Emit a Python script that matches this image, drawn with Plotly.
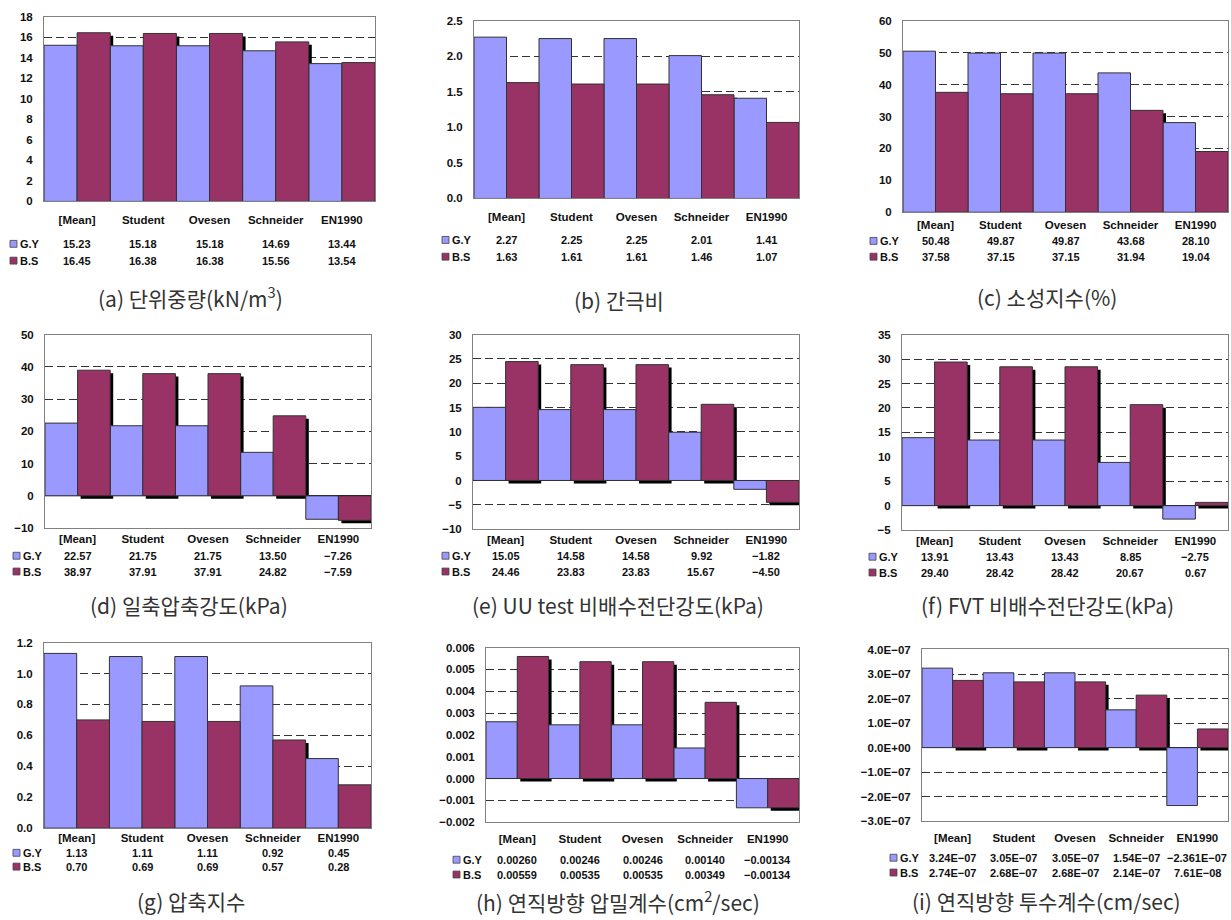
import plotly.graph_objects as go

FIG_W, FIG_H = 1231, 920

categories = ["[Mean]", "Student", "Ovesen", "Schneider", "EN1990"]
series_names = ["G.Y", "B.S"]
series_colors = ["#9999FF", "#993366"]

unit_weight_gy = [15.23, 15.18, 15.18, 14.69, 13.44]
unit_weight_bs = [16.45, 16.38, 16.38, 15.56, 13.54]
void_ratio_gy = [2.27, 2.25, 2.25, 2.01, 1.41]
void_ratio_bs = [1.63, 1.61, 1.61, 1.46, 1.07]
plasticity_gy = [50.48, 49.87, 49.87, 43.68, 28.10]
plasticity_bs = [37.58, 37.15, 37.15, 31.94, 19.04]
ucs_gy = [22.57, 21.75, 21.75, 13.50, -7.26]
ucs_bs = [38.97, 37.91, 37.91, 24.82, -7.59]
uu_gy = [15.05, 14.58, 14.58, 9.92, -1.82]
uu_bs = [24.46, 23.83, 23.83, 15.67, -4.50]
fvt_gy = [13.91, 13.43, 13.43, 8.85, -2.75]
fvt_bs = [29.40, 28.42, 28.42, 20.67, 0.67]
cc_gy = [1.13, 1.11, 1.11, 0.92, 0.45]
cc_bs = [0.70, 0.69, 0.69, 0.57, 0.28]
cv_gy = [0.00260, 0.00246, 0.00246, 0.00140, -0.00134]
cv_bs = [0.00559, 0.00535, 0.00535, 0.00349, -0.00134]
kv_gy = [3.24e-07, 3.05e-07, 3.05e-07, 1.54e-07, -2.361e-07]
kv_bs = [2.74e-07, 2.68e-07, 2.68e-07, 2.14e-07, 7.61e-08]

captions = [
    "(a) 단위중량(kN/m<sup>3</sup>)",
    "(b) 간극비",
    "(c) 소성지수(%)",
    "(d) 일축압축강도(kPa)",
    "(e) UU test 비배수전단강도(kPa)",
    "(f) FVT 비배수전단강도(kPa)",
    "(g) 압축지수",
    "(h) 연직방향 압밀계수(cm<sup>2</sup>/sec)",
    "(i) 연직방향 투수계수(cm/sec)",
]


def fmt_fixed(digits):
    return lambda v: f"{v:.{digits}f}"


def fmt_sci(v):
    # shortest mantissa (at least 2 decimals) that reproduces the value
    for d in (2, 3, 4):
        s = f"{v:.{d}E}"
        if abs(float(s) - v) < 1e-15:
            return s
    return f"{v:.4E}"


def tick_sci(v):
    return f"{v:.1E}"


# per-panel: data, y range, tick step, tick/value formats,
# plot box (px: left, right, top, bottom), table rows (px), legend x, caption (px)
panels = [
    dict(gy=unit_weight_gy, bs=unit_weight_bs, rng=(0, 18), step=2,
         tick=fmt_fixed(0), val=fmt_fixed(2), box=(44, 375, 11, 198),
         rows=(215, 241, 258), sq=10, cap=(190, 295)),
    dict(gy=void_ratio_gy, bs=void_ratio_bs, rng=(0, 2.5), step=0.5,
         tick=fmt_fixed(1), val=fmt_fixed(2), box=(474, 799, 15, 195),
         rows=(212, 237, 254), sq=442, cap=(619, 298)),
    dict(gy=plasticity_gy, bs=plasticity_bs, rng=(0, 60), step=10,
         tick=fmt_fixed(0), val=fmt_fixed(2), box=(903, 1228, 15, 209),
         rows=(220, 238, 254), sq=870, cap=(1047, 295)),
    dict(gy=ucs_gy, bs=ucs_bs, rng=(-10, 50), step=10,
         tick=fmt_fixed(0), val=fmt_fixed(2), box=(45, 371, 333, 529),
         rows=(538, 557, 573), sq=13, cap=(189, 607)),
    dict(gy=uu_gy, bs=uu_bs, rng=(-10, 30), step=5,
         tick=fmt_fixed(0), val=fmt_fixed(2), box=(473, 799, 333, 530),
         rows=(539, 557, 573), sq=442, cap=(618, 607)),
    dict(gy=fvt_gy, bs=fvt_bs, rng=(-5, 35), step=5,
         tick=fmt_fixed(0), val=fmt_fixed(2), box=(902, 1228, 333, 531),
         rows=(540, 558, 574), sq=869, cap=(1047, 607)),
    dict(gy=cc_gy, bs=cc_bs, rng=(0, 1.2), step=0.2,
         tick=fmt_fixed(1), val=fmt_fixed(2), box=(44, 371, 645, 833),
         rows=(841, 858, 872), sq=13, cap=(191, 907)),
    dict(gy=cv_gy, bs=cv_bs, rng=(-0.002, 0.006), step=0.001,
         tick=fmt_fixed(3), val=fmt_fixed(5), box=(486, 799, 650, 827),
         rows=(842, 865, 880), sq=453, cap=(618, 907)),
    dict(gy=kv_gy, bs=kv_bs, rng=(-3e-07, 4e-07), step=1e-07,
         tick=tick_sci, val=fmt_sci, box=(922, 1228, 652, 826),
         rows=(841, 863, 878), sq=890, cap=(1046, 907)),
]

MINUS = "\u2212"
TXT_FONT = dict(family="Liberation Sans, Arial, sans-serif", size=11,
                color="#111111", weight="bold")
TICK_FONT = dict(family="Liberation Sans, Arial, sans-serif", size=11.5,
                 color="#111111", weight="bold")
CAP_FONT = dict(family="Noto Sans CJK KR, Noto Sans, sans-serif",
                size=21, color="#333333")
OUTLINE = "rgb(50,50,50)"
SHADOW_PX = 3

fig = go.Figure()
annotations = []
shapes = []
xs = list(range(len(categories)))

for k, p in enumerate(panels):
    n = "" if k == 0 else str(k + 1)
    xa, ya = "x" + n, "y" + n
    left, right, top, bottom = p["box"]
    lo, hi = p["rng"]

    # convert the shadow offset from pixels into data units of this panel
    dx = SHADOW_PX * len(categories) / (right - left)
    dy = SHADOW_PX * (hi - lo) / (bottom - top)

    fig.add_trace(go.Bar(x=xs, y=p["bs"], base=[-dy] * len(xs), offset=dx,
                         width=0.5, marker=dict(color="black", line=dict(width=0)),
                         xaxis=xa, yaxis=ya, showlegend=False, hoverinfo="skip"))
    for name, vals, off, col in ((series_names[0], p["gy"], -0.5, series_colors[0]),
                                 (series_names[1], p["bs"], 0.0, series_colors[1])):
        fig.add_trace(go.Bar(x=xs, y=vals, offset=off, width=0.5, name=name,
                             marker=dict(color=col, line=dict(color=OUTLINE, width=1)),
                             xaxis=xa, yaxis=ya, showlegend=False))

    nt = int(round((hi - lo) / p["step"])) + 1
    tickvals = [round(lo + i * p["step"], 12) + 0.0 for i in range(nt)]
    ticktext = [p["tick"](v).replace("-", MINUS) for v in tickvals]

    fig.update_layout({
        "xaxis" + n: dict(domain=[left / FIG_W, right / FIG_W], anchor=ya,
                          range=[-0.5, len(categories) - 0.5],
                          tickvals=xs, ticktext=categories, tickfont=TICK_FONT,
                          ticks="", ticklabelstandoff=p["rows"][0] - bottom - 9,
                          showgrid=False, zeroline=False, showline=True,
                          linecolor="#808080", linewidth=1, mirror=True,
                          fixedrange=True),
        "yaxis" + n: dict(domain=[1 - bottom / FIG_H, 1 - top / FIG_H], anchor=xa,
                          range=[lo, hi], tickvals=tickvals, ticktext=ticktext,
                          tickfont=TICK_FONT, ticks="", ticklabelstandoff=8,
                          showgrid=True, gridcolor="#333333", gridwidth=1,
                          griddash="8px,4px", zeroline=True,
                          zerolinecolor="#000000", zerolinewidth=1,
                          showline=True, linecolor="#808080", linewidth=1,
                          mirror=True, fixedrange=True),
    })

    # data table under the category labels
    for r, (name, vals, col) in enumerate(((series_names[0], p["gy"], series_colors[0]),
                                           (series_names[1], p["bs"], series_colors[1]))):
        yrow = p["rows"][r + 1]
        shapes.append(dict(type="rect", xref="paper", yref="paper",
                           x0=p["sq"] / FIG_W, x1=(p["sq"] + 7) / FIG_W,
                           y0=1 - (yrow + 3.5) / FIG_H, y1=1 - (yrow - 3.5) / FIG_H,
                           fillcolor=col, line=dict(color="#444444", width=0.8)))
        annotations.append(dict(xref="paper", yref="paper",
                                x=(p["sq"] + 8) / FIG_W, y=1 - yrow / FIG_H,
                                xanchor="left", yanchor="middle", text=name,
                                showarrow=False, font=TXT_FONT))
        for i, v in enumerate(vals):
            annotations.append(dict(xref=xa, yref="paper", x=i, y=1 - yrow / FIG_H,
                                    xanchor="center", yanchor="middle",
                                    text=p["val"](v).replace("-", MINUS),
                                    showarrow=False, font=TXT_FONT))

    cx, cy = p["cap"]
    annotations.append(dict(xref="paper", yref="paper", x=cx / FIG_W, y=1 - cy / FIG_H,
                            xanchor="center", yanchor="middle", text=captions[k],
                            showarrow=False, font=CAP_FONT))

fig.update_layout(
    width=FIG_W, height=FIG_H,
    margin=dict(l=0, r=0, t=0, b=0),
    paper_bgcolor="white", plot_bgcolor="white",
    barmode="overlay",
    annotations=annotations, shapes=shapes,
)

fig.write_html("out.html", config={"displayModeBar": False})
